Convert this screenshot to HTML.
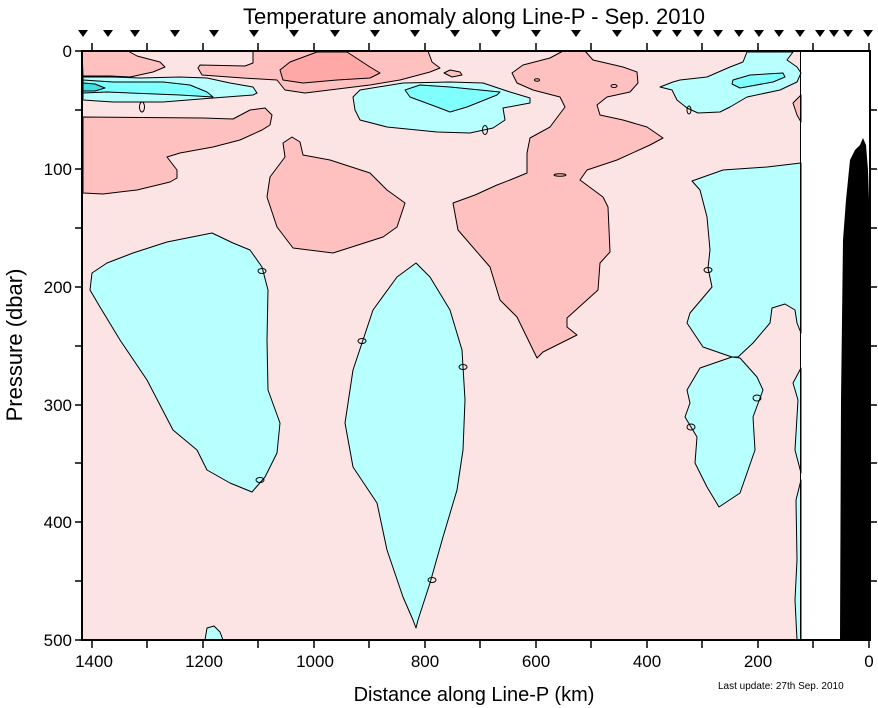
<!DOCTYPE html>
<html><head><meta charset="utf-8"><style>
html,body{margin:0;padding:0;background:#fff;}
svg{display:block;font-family:"Liberation Sans",Arial,sans-serif;}
</style></head><body>
<svg width="878" height="708" viewBox="0 0 878 708" xmlns="http://www.w3.org/2000/svg">
<rect x="0" y="0" width="878" height="708" fill="#fff"/>
<!-- background -->
<rect x="82" y="51" width="719" height="589" fill="#fde4e4"/>
<g stroke="#000" stroke-width="1" stroke-linejoin="round">
<!-- pink regions -->
<polygon fill="#ffc0c0" points="82,51 128,51 137,56 160,62 165,67 153,72 130,77 110,76 83,76"/>
<polygon fill="#ffc0c0" points="198,68 202,75 243,78 277,80 285,90 305,93 370,85 400,80 430,72 440,68 432,62 428,51 253,51 253,63 245,66 200,65"/>
<polygon fill="#ffa8a8" points="280,70 290,62 317,52 347,52 370,67 380,73 370,78 337,80 303,83 283,80"/>
<polygon fill="#ffc0c0" points="444,73 450,70 460,72 462,75 452,77"/>
<polygon fill="#ffc0c0" points="83,117 203,118 233,119 250,110 265,108 272,115 270,125 262,130 240,140 213,147 180,153 167,157 177,170 177,178 170,182 137,190 103,194 83,193"/>
<polygon fill="#ffc0c0" points="292,137 300,142 303,155 330,160 370,173 387,190 405,203 397,227 383,237 333,253 293,248 277,227 267,197 270,177 285,157 283,143"/>
<polygon fill="#ffc0c0" points="563,51 585,51 593,60 623,67 637,72 638,83 630,92 607,97 597,105 600,115 623,120 647,127 663,138 650,145 617,160 587,170 580,180 603,197 608,207 610,252 600,263 598,290 567,318 567,327 577,335 543,352 537,358 517,317 500,300 490,267 458,230 453,203 475,195 497,185 510,180 527,173 527,153 530,138 550,127 565,107 560,97 533,90 517,83 512,73 523,65 550,58"/>
<polygon fill="#ffc0c0" points="801,95 793,103 797,115 801,122"/>
<!-- cyan regions -->
<polygon fill="#b8ffff" points="83,77 113,77 140,78 180,77 207,78 230,83 253,87 257,93 253,95 213,98 163,102 113,102 83,100"/>
<polygon fill="#80ffff" points="83,80 113,82 163,82 190,85 207,92 213,97 180,95 130,93 107,92 83,93"/>
<polygon fill="#40e0e0" points="83,83 95,84 105,88 95,91 83,91"/>
<polygon fill="#b8ffff" points="353,97 360,90 403,83 450,82 483,83 510,92 530,98 530,103 503,108 505,120 493,128 470,133 437,132 387,127 360,120 355,110"/>
<polygon fill="#80ffff" points="405,90 420,85 450,87 500,92 497,95 467,107 450,112 437,107 410,97"/>
<polygon fill="#b8ffff" points="660,87 673,82 680,80 707,77 730,67 743,62 747,52 793,52 787,60 797,67 801,73 797,82 780,90 747,97 730,107 720,112 698,113 687,108 677,100 672,90"/>
<polygon fill="#80ffff" points="733,80 750,75 783,73 785,77 773,82 740,88 732,84"/>
<polygon fill="#b8ffff" points="212,233 233,243 250,250 262,267 268,290 267,340 268,390 280,423 277,453 265,477 252,492 230,483 207,470 197,450 173,430 147,380 120,340 100,307 90,290 92,273 107,263 133,253 167,242"/>
<polygon fill="#b8ffff" points="416,263 430,277 450,310 462,350 465,400 463,450 457,490 443,537 430,583 418,620 416,628 413,620 403,597 387,550 377,503 353,467 345,423 353,370 363,340 373,310 397,277"/>
<polygon fill="#b8ffff" points="692,181 723,170 767,167 801,163 801,333 797,323 795,310 785,304 772,308 770,323 753,343 738,357 732,357 703,347 687,323 690,313 712,287 708,268 710,250 707,217 700,190"/>
<polygon fill="#b8ffff" points="732,357 740,358 757,377 763,390 753,417 755,450 747,473 740,493 719,507 707,487 695,463 697,437 685,417 690,403 687,390 700,368"/>
<polygon fill="#b8ffff" points="801,368 793,383 798,400 795,450 801,473"/>
<polygon fill="#b8ffff" points="801,480 796,500 797,560 795,600 797,640 801,640"/>
<polygon fill="#b8ffff" points="205,640 207,628 214,626 220,632 223,640"/>
<!-- small ellipses -->
<ellipse cx="142" cy="107" rx="2.5" ry="5" fill="none"/>
<ellipse cx="262" cy="271" rx="4" ry="2.5" fill="none"/>
<ellipse cx="260" cy="480" rx="4" ry="2.5" fill="none"/>
<ellipse cx="362" cy="341" rx="4" ry="2.5" fill="none"/>
<ellipse cx="463" cy="367" rx="4" ry="2.5" fill="none"/>
<ellipse cx="432" cy="580" rx="4" ry="2.5" fill="none"/>
<ellipse cx="485" cy="130" rx="2.5" ry="4.5" fill="none"/>
<ellipse cx="560" cy="175" rx="6" ry="1.2" fill="none"/>
<ellipse cx="537" cy="80" rx="2.5" ry="1.2" fill="none"/>
<ellipse cx="614" cy="86" rx="3" ry="1.5" fill="none"/>
<ellipse cx="689" cy="110" rx="2" ry="4" fill="none"/>
<ellipse cx="708" cy="270" rx="4" ry="2.5" fill="none"/>
<ellipse cx="757" cy="398" rx="4" ry="3" fill="none"/>
<ellipse cx="691" cy="427" rx="4" ry="3" fill="none"/>
</g>
<!-- data edge -->
<line x1="800.5" y1="51" x2="800.5" y2="640" stroke="#000" stroke-width="1"/>
<!-- bathymetry -->
<polygon fill="#000" points="840,640 841,400 843,240 846,200 850,160 855,150 860,145 863,138 866,145 868,170 869,200 869,640"/>
<!-- frame -->
<rect x="82" y="51" width="788" height="589" fill="none" stroke="#000" stroke-width="2"/>
<g stroke="#000" stroke-width="1.5">
<!-- x ticks every 100 km -->
<path d="M92,51V43 M147,51V43 M203,51V43 M258,51V43 M314,51V43 M369,51V43 M425,51V43 M480,51V43 M536,51V43 M591,51V43 M647,51V43 M702,51V43 M758,51V43 M813,51V43 M869,51V43
M92,640V648 M147,640V648 M203,640V648 M258,640V648 M314,640V648 M369,640V648 M425,640V648 M480,640V648 M536,640V648 M591,640V648 M647,640V648 M702,640V648 M758,640V648 M813,640V648 M869,640V648"/>
<path d="M82,51H75 M82,110H75 M82,169H75 M82,228H75 M82,287H75 M82,346H75 M82,405H75 M82,463H75 M82,522H75 M82,581H75 M82,640H75
M870,110H877 M870,169H877 M870,228H877 M870,287H877 M870,346H877 M870,405H877 M870,463H877 M870,522H877 M870,581H877"/>
</g>
<!-- station triangles -->
<g fill="#000">
<path d="M78,30h10l-5,7z M103,30h10l-5,7z M130,30h10l-5,7z M170,30h10l-5,7z M209,30h10l-5,7z M249,30h10l-5,7z M289,30h10l-5,7z M330,30h10l-5,7z M370,30h10l-5,7z M410,30h10l-5,7z M450,30h10l-5,7z M491,30h10l-5,7z M531,30h10l-5,7z M571,30h10l-5,7z M612,30h10l-5,7z M652,30h10l-5,7z M672,30h10l-5,7z M693,30h10l-5,7z M713,30h10l-5,7z M734,30h10l-5,7z M754,30h10l-5,7z M774,30h10l-5,7z M795,30h10l-5,7z M815,30h10l-5,7z M829,30h10l-5,7z M843,30h10l-5,7z M863,30h10l-5,7z"/>
</g>
<!-- text -->
<text x="474" y="24" font-size="22" text-anchor="middle">Temperature anomaly along Line-P - Sep. 2010</text>
<g font-size="17" text-anchor="end">
<text x="72" y="57">0</text><text x="72" y="175">100</text><text x="72" y="293">200</text>
<text x="72" y="411">300</text><text x="72" y="528">400</text><text x="72" y="646">500</text>
</g>
<g font-size="17" text-anchor="middle">
<text x="94" y="667">1400</text><text x="204" y="667">1200</text><text x="315" y="667">1000</text>
<text x="425" y="667">800</text><text x="536" y="667">600</text><text x="647" y="667">400</text>
<text x="758" y="667">200</text><text x="869" y="667">0</text>
</g>
<text x="474" y="701" font-size="20" text-anchor="middle">Distance along Line-P (km)</text>
<text transform="translate(22,345) rotate(-90)" font-size="22" text-anchor="middle">Pressure (dbar)</text>
<text x="718" y="689" font-size="10">Last update: 27th Sep. 2010</text>
</svg>
</body></html>
